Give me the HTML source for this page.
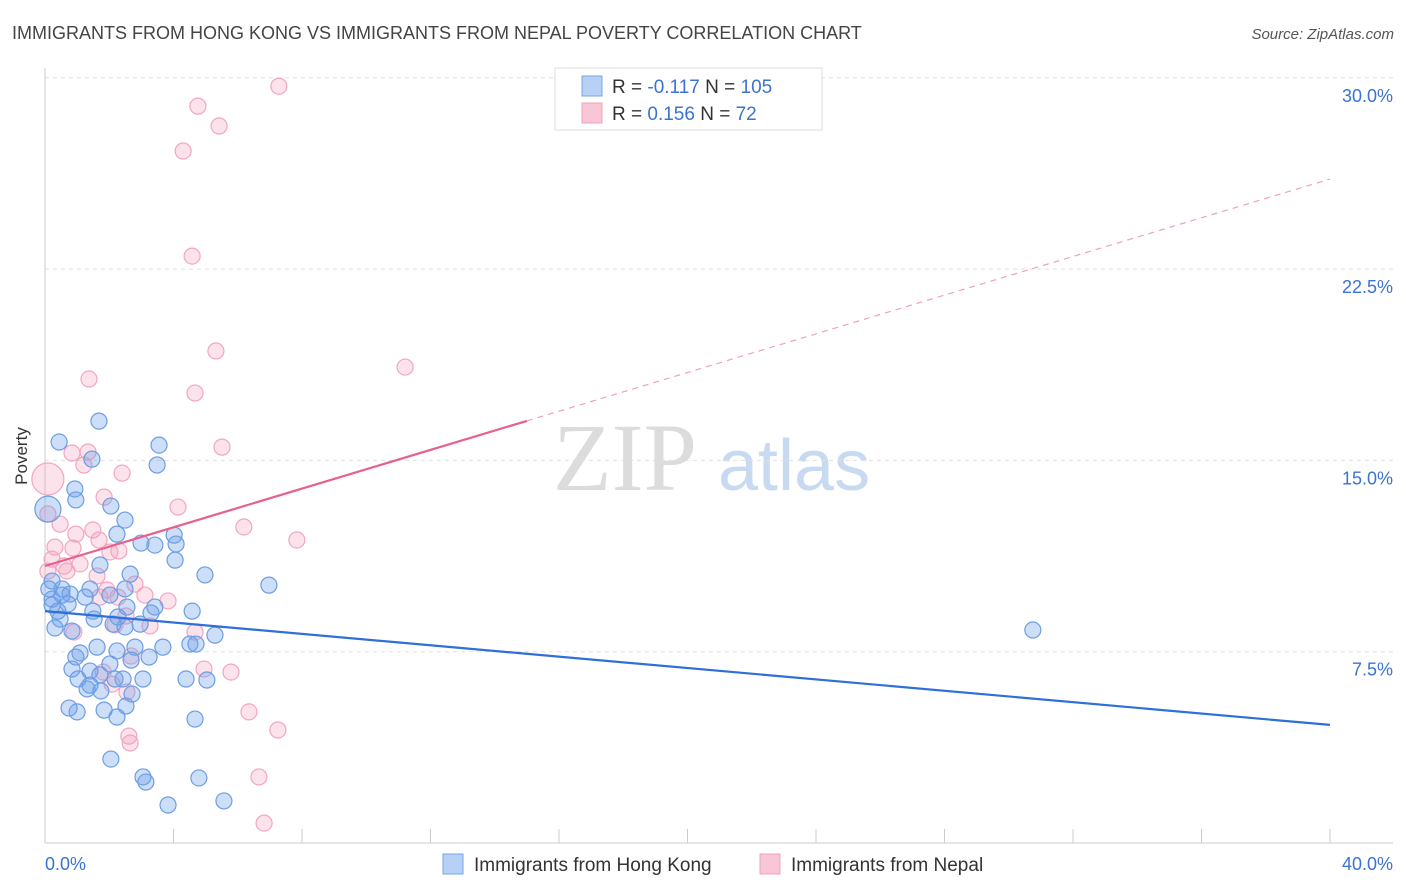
<!DOCTYPE html>
<html><head><meta charset="utf-8"><style>
body{margin:0;background:#fff;font-family:"Liberation Sans",sans-serif;}
svg{display:block}
</style></head><body>
<svg width="1406" height="892" viewBox="0 0 1406 892">
<text x="12" y="39" font-size="18" fill="#444">IMMIGRANTS FROM HONG KONG VS IMMIGRANTS FROM NEPAL POVERTY CORRELATION CHART</text>
<text x="1394" y="39" font-size="15" fill="#555" font-style="italic" text-anchor="end">Source: ZipAtlas.com</text>
<g>
<text x="553" y="490" font-size="96" font-family="Liberation Serif,serif" fill="#dcdcdc">ZIP</text>
<text x="718" y="490" font-size="72" fill="#c8daf2">atlas</text>
</g>
<g id="grid"></g>
<g id="axes"></g>
<g id="marks"></g>
<text x="27" y="456" font-size="17" fill="#333" text-anchor="middle" transform="rotate(-90 27 456)">Poverty</text>
<g>
<rect x="555" y="68" width="267" height="62" fill="#fff" stroke="#ddd"/>
<rect x="582" y="76" width="20" height="20" fill="#b7d0f5" stroke="#7aa6e6"/>
<rect x="582" y="103" width="20" height="20" fill="#f9c6d6" stroke="#f0a0bc"/>
<text x="612" y="93" font-size="19" fill="#333">R = <tspan fill="#3b73d0">-0.117</tspan>   N = <tspan fill="#3b73d0">105</tspan></text>
<text x="612" y="120" font-size="19" fill="#333">R =  <tspan fill="#3b73d0">0.156</tspan>   N =   <tspan fill="#3b73d0">72</tspan></text>
</g>
<g>
<rect x="443" y="854" width="20" height="20" fill="#b7d0f5" stroke="#7aa6e6"/>
<text x="474" y="871" font-size="19" fill="#333">Immigrants from Hong Kong</text>
<rect x="760" y="854" width="20" height="20" fill="#f9c6d6" stroke="#f0a0bc"/>
<text x="791" y="871" font-size="19" fill="#333">Immigrants from Nepal</text>
</g>
</svg>
<script>
const blueX=[0.44,1.68,3.55,3.49,1.46,0.93,0.96,2.05,2.49,2.24,4.02,4.08,2.99,3.42,4.05,4.98,6.97,30.75,0.22,0.53,0.78,1.40,1.71,2.65,2.02,2.49,3.42,3.30,2.55,4.58,5.29,4.51,4.70,3.67,2.80,3.24,2.68,2.24,1.62,0.96,1.09,0.31,0.84,1.53,0.47,0.22,0.72,2.12,2.49,2.96,0.84,1.40,1.71,2.02,2.43,1.40,1.31,1.74,1.03,2.18,3.05,4.39,5.04,2.71,0.75,1.00,1.84,2.24,2.52,4.67,2.05,3.05,3.14,4.79,3.83,5.57,0.22,0.12,0.53,1.25,0.40,1.49,2.27,0.09];
const blueY=[15.72,16.54,15.60,14.82,15.05,13.88,13.45,13.21,12.66,12.11,12.07,11.72,11.76,11.68,11.09,10.51,10.11,8.35,10.27,9.96,9.76,9.96,10.90,10.54,9.72,9.96,9.25,9.02,9.25,9.09,8.15,7.80,7.80,7.68,7.68,7.29,7.17,7.53,7.68,7.29,7.45,8.43,8.31,8.78,8.78,9.33,9.37,8.58,8.47,8.58,6.82,6.74,6.59,7.02,6.43,6.19,6.04,5.96,6.43,6.43,6.43,6.43,6.39,5.84,5.29,5.14,5.21,4.94,5.37,4.86,3.29,2.59,2.39,2.55,1.49,1.65,9.56,9.96,9.72,9.64,9.09,9.09,8.86,13.09];
const pinkX=[7.28,4.76,5.42,4.30,4.58,5.32,11.21,1.37,4.67,5.51,1.34,0.84,1.21,2.40,4.14,1.84,6.19,7.84,0.09,0.09,0.47,0.96,1.49,0.31,0.87,1.68,2.30,2.02,0.59,1.09,0.68,1.62,2.80,1.93,2.27,3.11,3.83,1.71,2.52,3.27,2.18,0.90,4.67,2.68,4.95,5.79,1.81,2.09,2.55,6.35,7.25,2.61,2.65,6.66,6.82,0.09,0.22];
const pinkY=[29.67,28.89,28.11,27.13,23.01,19.29,18.66,18.19,17.64,15.52,15.33,15.29,14.82,14.50,13.17,13.56,12.39,11.88,14.27,12.90,12.50,12.11,12.27,11.60,11.56,11.88,11.45,11.41,10.86,10.94,10.66,10.47,10.15,9.92,9.64,9.72,9.49,9.64,8.90,8.51,8.55,8.27,8.27,7.33,6.82,6.70,6.70,6.23,5.92,5.14,4.43,4.19,3.92,2.59,0.78,10.66,11.13];
const blueTrend=[9.09,4.63];   // y at x=0, x=40
const pinkTrend=[10.86,26.03]; // y at x=0, x=40
const pinkSolidEnd=15.0;
const yTicks=[7.5,15,22.5,30];
const yTickLabels=["7.5%","15.0%","22.5%","30.0%"];
const xTicks=[0,4,8,12,16,20,24,28,32,36,40];

const NS="http://www.w3.org/2000/svg";
const sx=v=>45+v/40*1285;
const sy=v=>843-v/7.5*191.3;
function mk(tag,attrs,parent){const e=document.createElementNS(NS,tag);for(const k in attrs)e.setAttribute(k,attrs[k]);parent.appendChild(e);return e;}
const grid=document.getElementById('grid'),axes=document.getElementById('axes'),marks=document.getElementById('marks');
yTicks.forEach((t,i)=>{
  const l=mk('line',{x1:45,x2:1393,y1:sy(t),y2:sy(t),stroke:'#e0e0e0','stroke-dasharray':'4,4'},grid);
  
  
  const tx=mk('text',{x:1393,y:sy(t)+24,'font-size':18,fill:'#3b73d0','text-anchor':'end'},axes);
  tx.textContent=yTickLabels[i];
  
  
});
const ax=mk('line',{x1:45,x2:1393,y1:843,y2:843,stroke:'#ccc'},axes);


const ay=mk('line',{x1:45,x2:45,y1:68,y2:843,stroke:'#ccc'},axes);


xTicks.forEach(t=>{
  const l=mk('line',{x1:sx(t),x2:sx(t),y1:829,y2:843,stroke:'#ccc'},axes);
  
  
});
const x0=mk('text',{x:45,y:870,'font-size':18,fill:'#3b73d0'},axes);x0.textContent="0.0%";


const x1=mk('text',{x:1393,y:870,'font-size':18,fill:'#3b73d0','text-anchor':'end'},axes);x1.textContent="40.0%";


pinkX.forEach((x,i)=>{
  const big=(x<0.2&&pinkY[i]>14);
  const c=mk('circle',{cx:sx(x),cy:sy(pinkY[i]),r:big?16:8,fill:'rgba(244,160,188,0.3)',stroke:'#f2a6c0','stroke-width':1.2},marks);
  
  
});
blueX.forEach((x,i)=>{
  const big=(x<0.2&&blueY[i]>12);
  const c=mk('circle',{cx:sx(x),cy:sy(blueY[i]),r:big?13:8,fill:'rgba(110,160,235,0.35)',stroke:'#6d9de2','stroke-width':1.2},marks);
  
  
});
const py=x=>pinkTrend[0]+(pinkTrend[1]-pinkTrend[0])*x/40;
const pd=mk('line',{x1:sx(pinkSolidEnd),y1:sy(py(pinkSolidEnd)),x2:sx(40),y2:sy(pinkTrend[1]),stroke:'#f0a0bc','stroke-width':1.2,'stroke-dasharray':'6,5'},marks);


const ps=mk('line',{x1:sx(0),y1:sy(pinkTrend[0]),x2:sx(pinkSolidEnd),y2:sy(py(pinkSolidEnd)),stroke:'#e8608e','stroke-width':2.2},marks);


const bl=mk('line',{x1:sx(0),y1:sy(blueTrend[0]),x2:sx(40),y2:sy(blueTrend[1]),stroke:'#2f6fd8','stroke-width':2.2},marks);


</script>
</body></html>
